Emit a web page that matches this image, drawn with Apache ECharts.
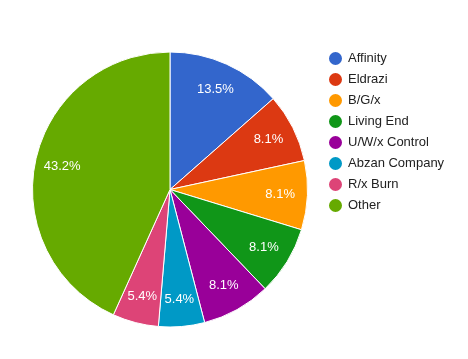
<!DOCTYPE html>
<html><head><meta charset="utf-8">
<script src="https://cdn.jsdelivr.net/npm/echarts@6/dist/echarts.min.js"></script>
<style>html,body{margin:0;padding:0;background:#fff}#c{width:468px;height:359px}</style>
</head><body><div id="c"></div>
<script>
const categories = ['Affinity','Eldrazi','B/G/x','Living End','U/W/x Control','Abzan Company','R/x Burn','Other'];
const counts = [5,3,3,3,3,2,2,16];
const colors = ['#3366cc','#dc3912','#ff9900','#109618','#990099','#0099c6','#dd4477','#66aa00'];
const total = counts.reduce((a,b)=>a+b,0);
const data = categories.map((n,i)=>({name:n,value:counts[i],itemStyle:{color:colors[i]}}));
const chart = echarts.init(document.getElementById('c'));
chart.setOption({
  animation:false,
  legend:{orient:'vertical',left:322,top:45,itemWidth:15,itemHeight:15,itemGap:4,icon:'circle',
    textStyle:{fontFamily:'Liberation Sans, Arial',fontSize:13,lineHeight:15,color:'#222'},data:categories},
  series:[
    {type:'pie',center:[170,189.5],radius:[0,137.5],startAngle:90,clockwise:true,
     label:{show:false},labelLine:{show:false},
     itemStyle:{borderColor:'#fff',borderWidth:1},data:data,silent:true},
    {type:'pie',center:[170,189.5],radius:[77,137.5],startAngle:90,clockwise:true,
     silent:true,legendHoverLink:false,
     itemStyle:{color:'rgba(0,0,0,0)',borderWidth:0},
     label:{show:true,position:'inside',color:'#fff',fontFamily:'Liberation Sans, Arial',fontSize:13,
       formatter:p=>(p.value/total*100).toFixed(1)+'%'},
     labelLine:{show:false},
     data:categories.map((n,i)=>({name:n+' ',value:counts[i]}))}
  ]
});
</script></body></html>
